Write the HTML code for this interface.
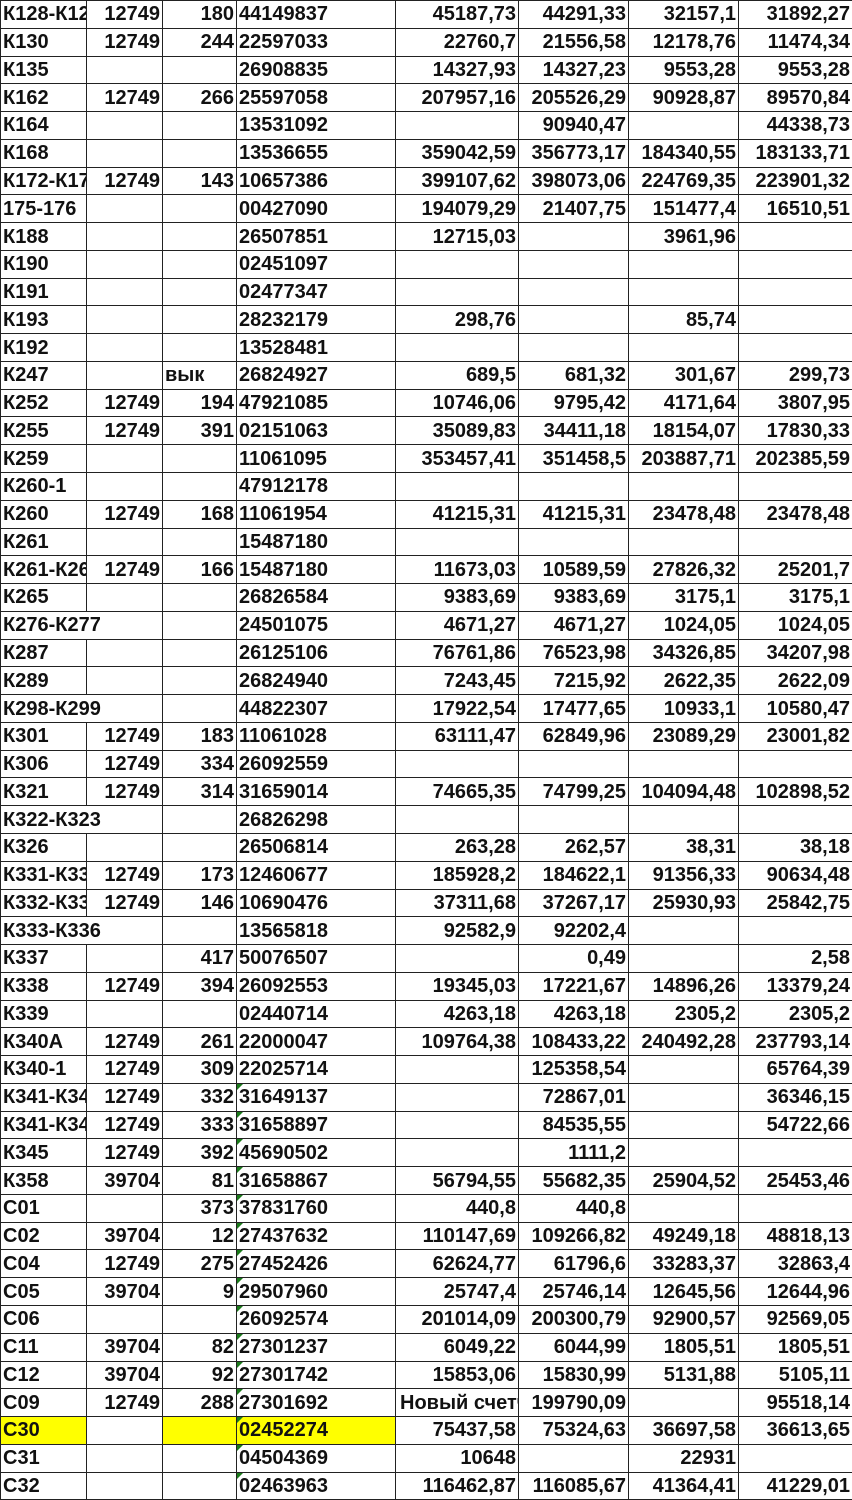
<!DOCTYPE html>
<html><head><meta charset="utf-8">
<style>
html,body{margin:0;padding:0;background:#fff;}
body{width:852px;height:1500px;overflow:hidden;}
table{border-collapse:collapse;table-layout:fixed;width:852px;font-family:"Liberation Sans",Arial,sans-serif;font-weight:bold;font-size:20px;color:#111;}
td{border:1px solid #222;height:26.78px;padding:0 2px;white-space:nowrap;overflow:hidden;line-height:26px;}
td.r{text-align:right;}
td.y{background:#ffff00;}
td.g{position:relative;}
td.g::before{content:"";position:absolute;left:0;top:0;border-top:6px solid #1a7a1a;border-right:6px solid transparent;}
</style></head><body>
<table>
<colgroup><col style="width:86px"><col style="width:76px"><col style="width:74px"><col style="width:159px"><col style="width:123px"><col style="width:110px"><col style="width:110px"><col style="width:114px"></colgroup>
<tr><td>К128-К128</td><td class="r">12749</td><td class="r">180</td><td>44149837</td><td class="r">45187,73</td><td class="r">44291,33</td><td class="r">32157,1</td><td class="r">31892,27</td></tr>
<tr><td>К130</td><td class="r">12749</td><td class="r">244</td><td>22597033</td><td class="r">22760,7</td><td class="r">21556,58</td><td class="r">12178,76</td><td class="r">11474,34</td></tr>
<tr><td>К135</td><td></td><td></td><td>26908835</td><td class="r">14327,93</td><td class="r">14327,23</td><td class="r">9553,28</td><td class="r">9553,28</td></tr>
<tr><td>К162</td><td class="r">12749</td><td class="r">266</td><td>25597058</td><td class="r">207957,16</td><td class="r">205526,29</td><td class="r">90928,87</td><td class="r">89570,84</td></tr>
<tr><td>К164</td><td></td><td></td><td>13531092</td><td></td><td class="r">90940,47</td><td></td><td class="r">44338,73</td></tr>
<tr><td>К168</td><td></td><td></td><td>13536655</td><td class="r">359042,59</td><td class="r">356773,17</td><td class="r">184340,55</td><td class="r">183133,71</td></tr>
<tr><td>К172-К173</td><td class="r">12749</td><td class="r">143</td><td>10657386</td><td class="r">399107,62</td><td class="r">398073,06</td><td class="r">224769,35</td><td class="r">223901,32</td></tr>
<tr><td>175-176</td><td></td><td></td><td>00427090</td><td class="r">194079,29</td><td class="r">21407,75</td><td class="r">151477,4</td><td class="r">16510,51</td></tr>
<tr><td>К188</td><td></td><td></td><td>26507851</td><td class="r">12715,03</td><td></td><td class="r">3961,96</td><td></td></tr>
<tr><td>К190</td><td></td><td></td><td>02451097</td><td></td><td></td><td></td><td></td></tr>
<tr><td>К191</td><td></td><td></td><td>02477347</td><td></td><td></td><td></td><td></td></tr>
<tr><td>К193</td><td></td><td></td><td>28232179</td><td class="r">298,76</td><td></td><td class="r">85,74</td><td></td></tr>
<tr><td>К192</td><td></td><td></td><td>13528481</td><td></td><td></td><td></td><td></td></tr>
<tr><td>К247</td><td></td><td>вык</td><td>26824927</td><td class="r">689,5</td><td class="r">681,32</td><td class="r">301,67</td><td class="r">299,73</td></tr>
<tr><td>К252</td><td class="r">12749</td><td class="r">194</td><td>47921085</td><td class="r">10746,06</td><td class="r">9795,42</td><td class="r">4171,64</td><td class="r">3807,95</td></tr>
<tr><td>К255</td><td class="r">12749</td><td class="r">391</td><td>02151063</td><td class="r">35089,83</td><td class="r">34411,18</td><td class="r">18154,07</td><td class="r">17830,33</td></tr>
<tr><td>К259</td><td></td><td></td><td>11061095</td><td class="r">353457,41</td><td class="r">351458,5</td><td class="r">203887,71</td><td class="r">202385,59</td></tr>
<tr><td>К260-1</td><td></td><td></td><td>47912178</td><td></td><td></td><td></td><td></td></tr>
<tr><td>К260</td><td class="r">12749</td><td class="r">168</td><td>11061954</td><td class="r">41215,31</td><td class="r">41215,31</td><td class="r">23478,48</td><td class="r">23478,48</td></tr>
<tr><td>К261</td><td></td><td></td><td>15487180</td><td></td><td></td><td></td><td></td></tr>
<tr><td>К261-К262</td><td class="r">12749</td><td class="r">166</td><td>15487180</td><td class="r">11673,03</td><td class="r">10589,59</td><td class="r">27826,32</td><td class="r">25201,7</td></tr>
<tr><td>К265</td><td></td><td></td><td>26826584</td><td class="r">9383,69</td><td class="r">9383,69</td><td class="r">3175,1</td><td class="r">3175,1</td></tr>
<tr><td colspan="2">К276-К277</td><td></td><td>24501075</td><td class="r">4671,27</td><td class="r">4671,27</td><td class="r">1024,05</td><td class="r">1024,05</td></tr>
<tr><td>К287</td><td></td><td></td><td>26125106</td><td class="r">76761,86</td><td class="r">76523,98</td><td class="r">34326,85</td><td class="r">34207,98</td></tr>
<tr><td>К289</td><td></td><td></td><td>26824940</td><td class="r">7243,45</td><td class="r">7215,92</td><td class="r">2622,35</td><td class="r">2622,09</td></tr>
<tr><td colspan="2">К298-К299</td><td></td><td>44822307</td><td class="r">17922,54</td><td class="r">17477,65</td><td class="r">10933,1</td><td class="r">10580,47</td></tr>
<tr><td>К301</td><td class="r">12749</td><td class="r">183</td><td>11061028</td><td class="r">63111,47</td><td class="r">62849,96</td><td class="r">23089,29</td><td class="r">23001,82</td></tr>
<tr><td>К306</td><td class="r">12749</td><td class="r">334</td><td>26092559</td><td></td><td></td><td></td><td></td></tr>
<tr><td>К321</td><td class="r">12749</td><td class="r">314</td><td>31659014</td><td class="r">74665,35</td><td class="r">74799,25</td><td class="r">104094,48</td><td class="r">102898,52</td></tr>
<tr><td colspan="2">К322-К323</td><td></td><td>26826298</td><td></td><td></td><td></td><td></td></tr>
<tr><td>К326</td><td></td><td></td><td>26506814</td><td class="r">263,28</td><td class="r">262,57</td><td class="r">38,31</td><td class="r">38,18</td></tr>
<tr><td>К331-К332</td><td class="r">12749</td><td class="r">173</td><td>12460677</td><td class="r">185928,2</td><td class="r">184622,1</td><td class="r">91356,33</td><td class="r">90634,48</td></tr>
<tr><td>К332-К333</td><td class="r">12749</td><td class="r">146</td><td>10690476</td><td class="r">37311,68</td><td class="r">37267,17</td><td class="r">25930,93</td><td class="r">25842,75</td></tr>
<tr><td colspan="2">К333-К336</td><td></td><td>13565818</td><td class="r">92582,9</td><td class="r">92202,4</td><td></td><td></td></tr>
<tr><td>К337</td><td></td><td class="r">417</td><td>50076507</td><td></td><td class="r">0,49</td><td></td><td class="r">2,58</td></tr>
<tr><td>К338</td><td class="r">12749</td><td class="r">394</td><td>26092553</td><td class="r">19345,03</td><td class="r">17221,67</td><td class="r">14896,26</td><td class="r">13379,24</td></tr>
<tr><td>К339</td><td></td><td></td><td>02440714</td><td class="r">4263,18</td><td class="r">4263,18</td><td class="r">2305,2</td><td class="r">2305,2</td></tr>
<tr><td>К340А</td><td class="r">12749</td><td class="r">261</td><td>22000047</td><td class="r">109764,38</td><td class="r">108433,22</td><td class="r">240492,28</td><td class="r">237793,14</td></tr>
<tr><td>К340-1</td><td class="r">12749</td><td class="r">309</td><td>22025714</td><td></td><td class="r">125358,54</td><td></td><td class="r">65764,39</td></tr>
<tr><td>К341-К342</td><td class="r">12749</td><td class="r">332</td><td class="g">31649137</td><td></td><td class="r">72867,01</td><td></td><td class="r">36346,15</td></tr>
<tr><td>К341-К342</td><td class="r">12749</td><td class="r">333</td><td class="g">31658897</td><td></td><td class="r">84535,55</td><td></td><td class="r">54722,66</td></tr>
<tr><td>К345</td><td class="r">12749</td><td class="r">392</td><td class="g">45690502</td><td></td><td class="r">1111,2</td><td></td><td></td></tr>
<tr><td>К358</td><td class="r">39704</td><td class="r">81</td><td class="g">31658867</td><td class="r">56794,55</td><td class="r">55682,35</td><td class="r">25904,52</td><td class="r">25453,46</td></tr>
<tr><td>С01</td><td></td><td class="r">373</td><td class="g">37831760</td><td class="r">440,8</td><td class="r">440,8</td><td></td><td></td></tr>
<tr><td>С02</td><td class="r">39704</td><td class="r">12</td><td class="g">27437632</td><td class="r">110147,69</td><td class="r">109266,82</td><td class="r">49249,18</td><td class="r">48818,13</td></tr>
<tr><td>С04</td><td class="r">12749</td><td class="r">275</td><td class="g">27452426</td><td class="r">62624,77</td><td class="r">61796,6</td><td class="r">33283,37</td><td class="r">32863,4</td></tr>
<tr><td>С05</td><td class="r">39704</td><td class="r">9</td><td class="g">29507960</td><td class="r">25747,4</td><td class="r">25746,14</td><td class="r">12645,56</td><td class="r">12644,96</td></tr>
<tr><td>С06</td><td></td><td></td><td class="g">26092574</td><td class="r">201014,09</td><td class="r">200300,79</td><td class="r">92900,57</td><td class="r">92569,05</td></tr>
<tr><td>С11</td><td class="r">39704</td><td class="r">82</td><td class="g">27301237</td><td class="r">6049,22</td><td class="r">6044,99</td><td class="r">1805,51</td><td class="r">1805,51</td></tr>
<tr><td>С12</td><td class="r">39704</td><td class="r">92</td><td class="g">27301742</td><td class="r">15853,06</td><td class="r">15830,99</td><td class="r">5131,88</td><td class="r">5105,11</td></tr>
<tr><td>С09</td><td class="r">12749</td><td class="r">288</td><td class="g">27301692</td><td style="padding-left:4px">Новый счетчик</td><td class="r">199790,09</td><td></td><td class="r">95518,14</td></tr>
<tr><td class="y">С30</td><td></td><td class="y"></td><td class="y g">02452274</td><td class="r">75437,58</td><td class="r">75324,63</td><td class="r">36697,58</td><td class="r">36613,65</td></tr>
<tr><td>С31</td><td></td><td></td><td class="g">04504369</td><td class="r">10648</td><td></td><td class="r">22931</td><td></td></tr>
<tr><td>С32</td><td></td><td></td><td class="g">02463963</td><td class="r">116462,87</td><td class="r">116085,67</td><td class="r">41364,41</td><td class="r">41229,01</td></tr>
</table>
</body></html>
